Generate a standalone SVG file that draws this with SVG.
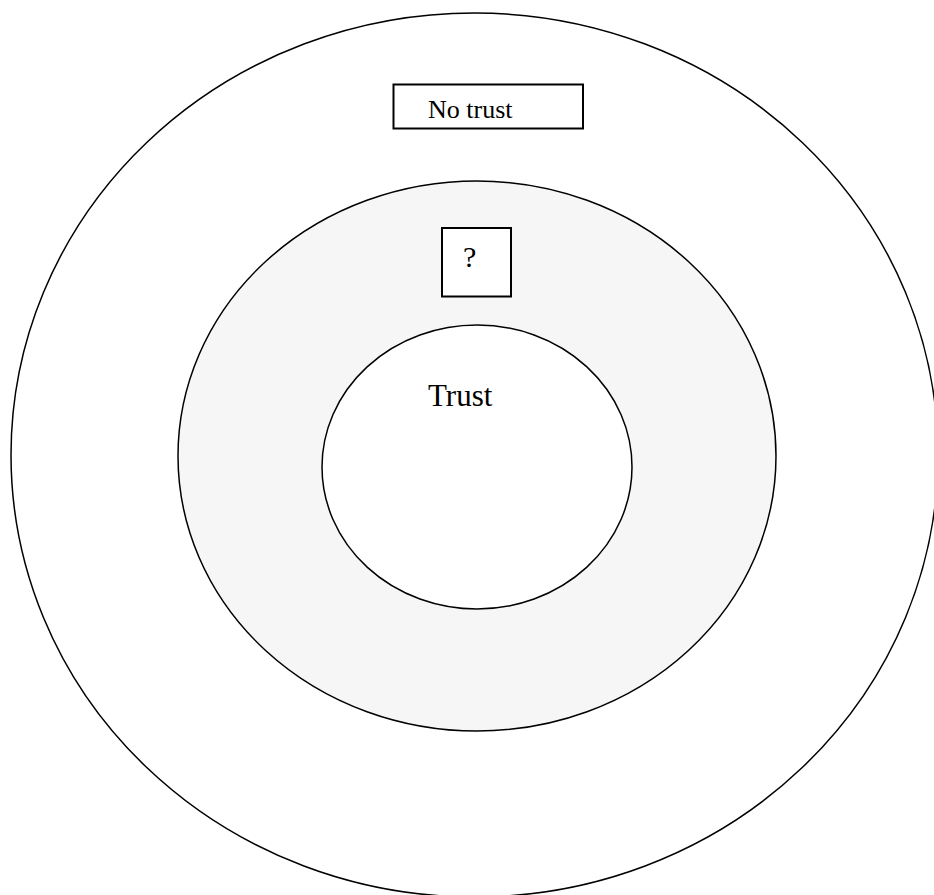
<svg xmlns="http://www.w3.org/2000/svg" width="934" height="895" viewBox="0 0 934 895">
<style>
.ring{stroke:#000;stroke-width:1.5}
.box{fill:#fff;stroke:#000;stroke-width:2}
.lbl{font-family:"Liberation Serif","Times New Roman",serif;fill:#000}
</style>
<rect width="934" height="895" fill="#fff"/>
<g id="outer"><ellipse class="ring" cx="474.5" cy="455" rx="463.5" ry="442" fill="#fff"/></g>
<g id="middle"><ellipse class="ring" cx="477" cy="456" rx="299" ry="275" fill="#f6f6f6"/></g>
<g id="inner"><ellipse class="ring" cx="477" cy="467" rx="155" ry="142" fill="#fff"/>
<text class="lbl" x="428" y="406" font-size="31">Trust</text></g>
<g id="notrust"><rect class="box" x="393.5" y="84.5" width="189.5" height="44"/>
<text class="lbl" x="428" y="118" font-size="26">No trust</text></g>
<g id="unknown"><rect class="box" x="442" y="228" width="69" height="68.5"/>
<text class="lbl" x="463" y="267" font-size="30">?</text></g>
<g id="connectors"></g>
</svg>
